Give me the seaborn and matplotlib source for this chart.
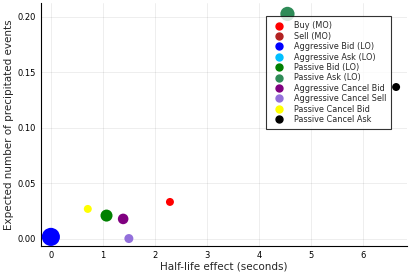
import numpy as np
import pandas as pd
import matplotlib
matplotlib.use('Agg')
import matplotlib.pyplot as plt
import seaborn as sns
from matplotlib.lines import Line2D

# Event types and their colors
labels = ['Buy (MO)', 'Sell (MO)', 'Aggressive Bid (LO)', 'Aggressive Ask (LO)',
          'Passive Bid (LO)', 'Passive Ask (LO)', 'Aggressive Cancel Bid',
          'Aggressive Cancel Sell', 'Passive Cancel Bid', 'Passive Cancel Ask']
colors = ['red', 'firebrick', 'blue', 'deepskyblue', 'green', 'seagreen',
          'purple', 'mediumpurple', 'yellow', 'black']

# Half-life (x), expected precipitated events (y), marker area
half_life = [2.29, np.nan, 0.0, np.nan, 1.07, 4.55, 1.39, 1.50, 0.71, 6.64]
expected = [0.033, np.nan, 0.0015, np.nan, 0.0207, 0.2025, 0.0177, 0.0, 0.0267, 0.1366]
area = [33, 33, 170, 33, 75, 105, 58, 42, 33, 33]

df = pd.DataFrame({'event': labels, 'x': half_life, 'y': expected, 'area': area})

sns.set_style('white')
plt.rcParams['font.family'] = ['DejaVu Sans']

fig = plt.figure(figsize=(4.15, 2.77), dpi=100)
ax = fig.add_axes([0.0988, 0.112, 0.882, 0.877])

sns.scatterplot(data=df, x='x', y='y', hue='event', hue_order=labels,
                palette=colors, size='area', sizes={a: a for a in set(area)},
                linewidth=0, legend=False, ax=ax, zorder=3)

ax.set_xlim(-0.19, 6.85)
ax.set_ylim(-0.0067, 0.2123)
ax.set_xticks(range(0, 7))
ax.set_yticks([0.0, 0.05, 0.10, 0.15, 0.20])
ax.set_yticklabels(['0.00', '0.05', '0.10', '0.15', '0.20'])
ax.tick_params(labelsize=6, length=2, direction='in', colors='black')
ax.grid(True, color='black', alpha=0.08, linewidth=0.6)
for s in ['top', 'right']:
    ax.spines[s].set_visible(False)
for s in ['left', 'bottom']:
    ax.spines[s].set_color('black')
    ax.spines[s].set_linewidth(0.8)

ax.set_xlabel('Half-life effect (seconds)', fontsize=7.5, labelpad=1)
ax.set_ylabel('Expected number of precipitated events', fontsize=7.5, labelpad=3)

handles = [Line2D([], [], marker='o', linestyle='', color=c, markersize=5) for c in colors]
leg = ax.legend(handles, labels, loc='upper right', bbox_to_anchor=(0.968, 0.963),
                fontsize=5.9, frameon=True, fancybox=False, labelspacing=0.17,
                handletextpad=0.9, borderpad=0.65, handlelength=1.8)
leg.get_frame().set_edgecolor('black')
leg.get_frame().set_linewidth(0.8)
leg.set_zorder(5)

fig.savefig('out.png', dpi=100)
